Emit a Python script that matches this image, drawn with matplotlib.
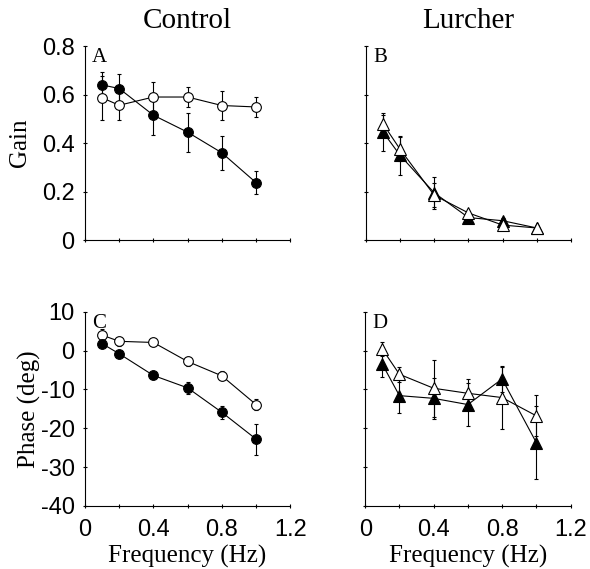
import matplotlib.pyplot as plt

plt.rcParams["axes.unicode_minus"] = False

freq = [0.1, 0.2, 0.4, 0.6, 0.8, 1.0]

# Control gain (A)
ctrl_gain_filled = [0.64, 0.625, 0.515, 0.445, 0.36, 0.237]
ctrl_gain_filled_err = [0.055, 0.06, 0.08, 0.08, 0.07, 0.047]
ctrl_gain_open = [0.587, 0.556, 0.59, 0.59, 0.555, 0.549]
ctrl_gain_open_err = [0.09, 0.06, 0.06, 0.04, 0.06, 0.04]

# Lurcher gain (B)
lur_gain_filled = [0.446, 0.35, 0.195, 0.093, 0.08, 0.05]
lur_gain_filled_err = [0.08, 0.08, 0.065, 0.01, 0.01, 0.005]
lur_gain_open = [0.48, 0.375, 0.185, 0.112, 0.062, 0.05]
lur_gain_open_err = [0.037, 0.05, 0.05, 0.01, 0.01, 0.005]

# Control phase (C)
ctrl_phase_filled = [1.8, -0.8, -6.4, -9.6, -15.9, -22.8]
ctrl_phase_filled_err = [0.8, 0.8, 1.0, 1.5, 1.6, 4.0]
ctrl_phase_open = [4.0, 2.4, 2.1, -2.8, -6.5, -13.9]
ctrl_phase_open_err = [1.5, 1.2, 0.8, 1.2, 1.2, 1.5]

# Lurcher phase (D)
lur_phase_filled = [-3.5, -11.6, -12.3, -13.9, -7.3, -23.7]
lur_phase_filled_err = [3.2, 4.5, 5.3, 5.6, 3.4, 9.5]
lur_phase_open = [0.4, -6.1, -9.7, -11.0, -12.1, -16.8]
lur_phase_open_err = [1.7, 2.0, 7.3, 3.6, 8.0, 5.3]

serif = ["Liberation Serif", "DejaVu Serif"]
sans = ["Liberation Sans", "DejaVu Sans"]

fig = plt.figure(figsize=(5.9, 5.69), dpi=100)
w, h = 0.348, 0.341
axA = fig.add_axes([0.144, 0.578, w, h])
axB = fig.add_axes([0.620, 0.578, w, h])
axC = fig.add_axes([0.144, 0.111, w, h])
axD = fig.add_axes([0.619, 0.111, w, h])


def draw(ax, y, err, marker, filled, ms):
    ax.errorbar(
        freq, y, yerr=err, color="black", lw=0.8, elinewidth=0.8,
        capsize=1.5, capthick=0.8, marker=marker, ms=ms,
        mfc="black" if filled else "white", mec="black", mew=0.8,
    )


draw(axA, ctrl_gain_open, ctrl_gain_open_err, "o", False, 7)
draw(axA, ctrl_gain_filled, ctrl_gain_filled_err, "o", True, 7)
draw(axB, lur_gain_filled, lur_gain_filled_err, "^", True, 8)
draw(axB, lur_gain_open, lur_gain_open_err, "^", False, 8)
draw(axC, ctrl_phase_open, ctrl_phase_open_err, "o", False, 7)
draw(axC, ctrl_phase_filled, ctrl_phase_filled_err, "o", True, 7)
draw(axD, lur_phase_filled, lur_phase_filled_err, "^", True, 8)
draw(axD, lur_phase_open, lur_phase_open_err, "^", False, 8)

for ax, letter in zip([axA, axB, axC, axD], "ABCD"):
    ax.spines["top"].set_visible(False)
    ax.spines["right"].set_visible(False)
    ax.spines["left"].set_linewidth(0.8)
    ax.spines["bottom"].set_linewidth(0.8)
    ax.set_xlim(0, 1.2)
    ax.set_xticks([0, 0.2, 0.4, 0.6, 0.8, 1.0, 1.2])
    ax.tick_params(direction="inout", length=3, width=0.8, pad=6)
    ax.text(0.035, 0.99, letter, transform=ax.transAxes, va="top",
            ha="left", fontsize=15, family=serif)

for ax in [axA, axB]:
    ax.set_ylim(0, 0.8)
    ax.set_yticks([0, 0.2, 0.4, 0.6, 0.8])
    ax.set_xticklabels([])
for ax in [axC, axD]:
    ax.set_ylim(-40, 10)
    ax.set_yticks([-40, -30, -20, -10, 0, 10])
    ax.set_xticklabels(["0", "", "0.4", "", "0.8", "", "1.2"],
                       fontsize=17, family=sans)
    ax.tick_params(axis="x", pad=8)
    ax.set_xlabel("Frequency (Hz)", fontsize=18, family=serif, labelpad=3)

axA.set_yticklabels(["0", "0.2", "0.4", "0.6", "0.8"], fontsize=17, family=sans)
axC.set_yticklabels(["-40", "-30", "-20", "-10", "0", "10"], fontsize=17, family=sans)
axB.set_yticklabels([])
axD.set_yticklabels([])

axA.set_ylabel("Gain", fontsize=18, family=serif, labelpad=8)
axC.set_ylabel("Phase (deg)", fontsize=18, family=serif, labelpad=0)

fig.text(0.318, 0.963, "Control", ha="center", va="center", fontsize=21, family=serif)
fig.text(0.794, 0.963, "Lurcher", ha="center", va="center", fontsize=21, family=serif)

fig.savefig("out.png", dpi=100)
